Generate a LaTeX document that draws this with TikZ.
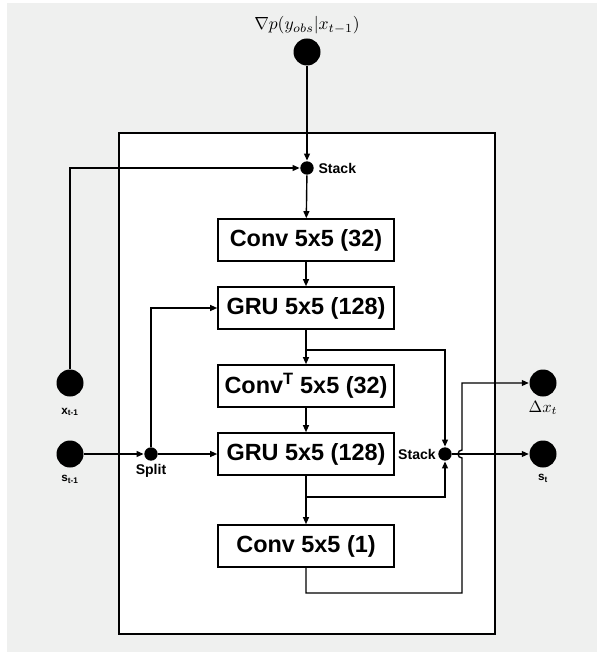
\documentclass[tikz,border=0pt]{standalone}
\usepackage{fontspec}
\setsansfont{Liberation Sans}
\usetikzlibrary{arrows.meta}
\definecolor{bggray}{RGB}{239,240,239}

\begin{document}
\begin{tikzpicture}[x=0.03cm, y=-0.03cm, >={Triangle[length=6pt, width=5pt]}, line width=1.2pt,
      layer/.style={draw, line width=1.3pt, fill=white, minimum width=5.28cm, minimum height=1.26cm,
                    inner sep=0pt, font=\sffamily\bfseries\fontsize{20}{23}\selectfont},
      port/.style={circle, fill=black, inner sep=0pt, minimum size=0.81cm},
      junc/.style={circle, fill=black, inner sep=0pt, minimum size=0.4cm},
      lbl/.style={font=\sffamily\bfseries\fontsize{12}{14}\selectfont, inner sep=1pt},
      io/.style={font=\sffamily\bfseries\fontsize{10}{12}\selectfont}]

    % canvas and cell frame
    \useasboundingbox (0,0) rectangle (597,652);
    \fill[bggray] (7,3) rectangle (597,652);
    \draw[fill=white, line width=1.4pt] (119,133) rectangle (495,634);

    % inputs / outputs
    \node[port] (grad)  at (307,52)  {};
    \node[port] (xin)   at (70,383)  {};
    \node[port] (sin)   at (70,454)  {};
    \node[port] (dxout) at (543,383) {};
    \node[port] (sout)  at (543,454) {};

    \node[scale=1.5] (gradlbl) at (307,25) {$\nabla p(y_{obs}|x_{t-1})$};
    \node[io] (xinlbl)  at (70,412)  {x\textsubscript{t-1}};
    \node[io] (sinlbl)  at (70,479)  {s\textsubscript{t-1}};
    \node[scale=1.4] (dxlbl) at (543,408) {$\Delta x_t$};
    \node[io] (soutlbl) at (543,478) {s\textsubscript{t}};

    % layers
    \node[layer] (conv1)   at (306,240) {Conv 5x5 (32)};
    \node[layer] (gru1)    at (306,308) {GRU 5x5 (128)};
    \node[layer] (convt)   at (306,386) {Conv\textsuperscript{T} 5x5 (32)};
    \node[layer] (gru2)    at (306,454) {GRU 5x5 (128)};
    \node[layer] (convout) at (306,546) {Conv 5x5 (1)};

    % junctions
    \node[junc] (stackin)  at (307,168) {};
    \node[junc] (split)    at (151,454) {};
    \node[junc] (stackout) at (445,454) {};
    \node[lbl, anchor=west] (stackinlbl) at ([xshift=2pt]stackin.east) {Stack};
    \node[lbl, anchor=east] (stackoutlbl) at (stackout.west) {Stack};
    \node[lbl] (splitlbl) at (151,471) {Split};

    % main chain
    \draw[->] (grad) -- (stackin);
    \draw[->] (xin) |- (stackin);
    \draw[->] (stackin) -- (conv1);
    \draw[->] (conv1) -- (gru1);
    \draw[->] (gru1) -- (convt);
    \draw[->] (convt) -- (gru2);
    \draw[->] (gru2) -- (convout);

    % state split
    \draw[->] (sin) -- (split);
    \draw[->] (split) -- (gru2);
    \draw[->] (split) |- (gru1);

    % hidden states to stack
    \coordinate (b1) at (306,350);
    \coordinate (b2) at (306,497);
    \draw[->] (b1) -| (stackout);
    \draw[->] (b2) -| (stackout);
    \draw[->] (stackout) -- (sout);

    % delta x output with hop
    \coordinate (c1) at (462,593);
    \coordinate (hop) at (462,458);
    \coordinate (c2) at (462,383);
    \draw[->] (convout.south) |- (c1) -- (hop)
      arc[start angle=270, end angle=90, radius=0.12cm] -- (c2) -- (dxout);

\end{tikzpicture}
\end{document}
